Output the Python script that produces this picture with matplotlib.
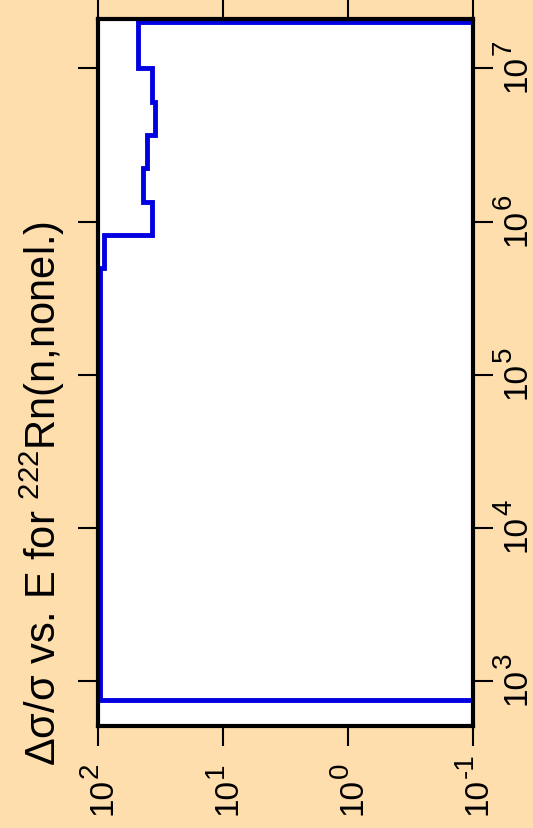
import numpy as np
import matplotlib
matplotlib.use('Agg')
import matplotlib.pyplot as plt

plt.rcParams['font.family'] = ['Liberation Sans', 'DejaVu Sans']
plt.rcParams['mathtext.fontset'] = 'custom'
plt.rcParams['mathtext.rm'] = 'Liberation Sans'
plt.rcParams['mathtext.default'] = 'regular'

# energy bin edges (eV) and relative uncertainty per bin (%)
E_edges = [752, 4.98e5, 8.17e5, 1.34e6, 2.23e6, 3.66e6, 6.0e6, 1.0e7, 2.0e7]
rel_unc = [97, 89.5, 37, 43.7, 40.5, 35, 37, 47.9]
outside = 1e-3   # value outside the covered range (off scale)

E_ticks = [1e3, 1e4, 1e5, 1e6, 1e7]
u_ticks = [1e2, 1e1, 1e0, 1e-1]

# build the vertical step line
xs = [outside]
ys = [E_edges[0]]
for i, v in enumerate(rel_unc):
    xs += [v, v]
    ys += [E_edges[i], E_edges[i + 1]]
xs.append(outside)
ys.append(E_edges[-1])

bg = '#FFDEAD'
fig = plt.figure(figsize=(5.33, 8.29), dpi=100, facecolor=bg)
ax = fig.add_axes([98/533, 1 - 727/829, 375/533, 707/829])
ax.set_facecolor('white')

ax.plot(xs, ys, color='#0000E0', lw=3.5, solid_joinstyle='miter')

ax.set_xscale('log')
ax.set_yscale('log')
ax.set_xlim(100, 0.1)
ax.set_ylim(509, 2.1e7)
ax.set_xticks(u_ticks)
ax.set_yticks(E_ticks)
ax.minorticks_off()

for s in ax.spines.values():
    s.set_linewidth(3)
ax.tick_params(which='major', direction='out', length=14.5, width=1.5,
               top=True, bottom=True, left=True, right=True,
               labeltop=False, labelleft=False, labelright=False, labelbottom=False)

# tick labels 10^n written by hand (rotated, large superscript)
fs_main, fs_exp = 24, 20
kw = dict(textcoords='offset pixels', rotation=90, rotation_mode='anchor',
          ha='left', va='baseline', annotation_clip=False)
for e in E_ticks:
    n = int(round(np.log10(e)))
    ax.annotate('10', xy=(1, e), xycoords=ax.get_yaxis_transform(),
                xytext=(52, -23), fontsize=fs_main, **kw)
    ax.annotate(str(n), xy=(1, e), xycoords=ax.get_yaxis_transform(),
                xytext=(38, 14), fontsize=fs_exp, **kw)
for u in u_ticks:
    n = int(round(np.log10(u)))
    ax.annotate('10', xy=(u, 0), xycoords=ax.get_xaxis_transform(),
                xytext=(14, -88), fontsize=fs_main, **kw)
    ax.annotate(str(n), xy=(u, 0), xycoords=ax.get_xaxis_transform(),
                xytext=(0, -51), fontsize=fs_exp, **kw)

fig.text(56/533, 1 - 493/829, r'Δσ/σ vs. E for $^{222}$Rn(n,nonel.)',
         rotation=90, rotation_mode='anchor', ha='center', va='baseline',
         fontsize=30)

fig.savefig('out.png', dpi=100, facecolor=bg)
